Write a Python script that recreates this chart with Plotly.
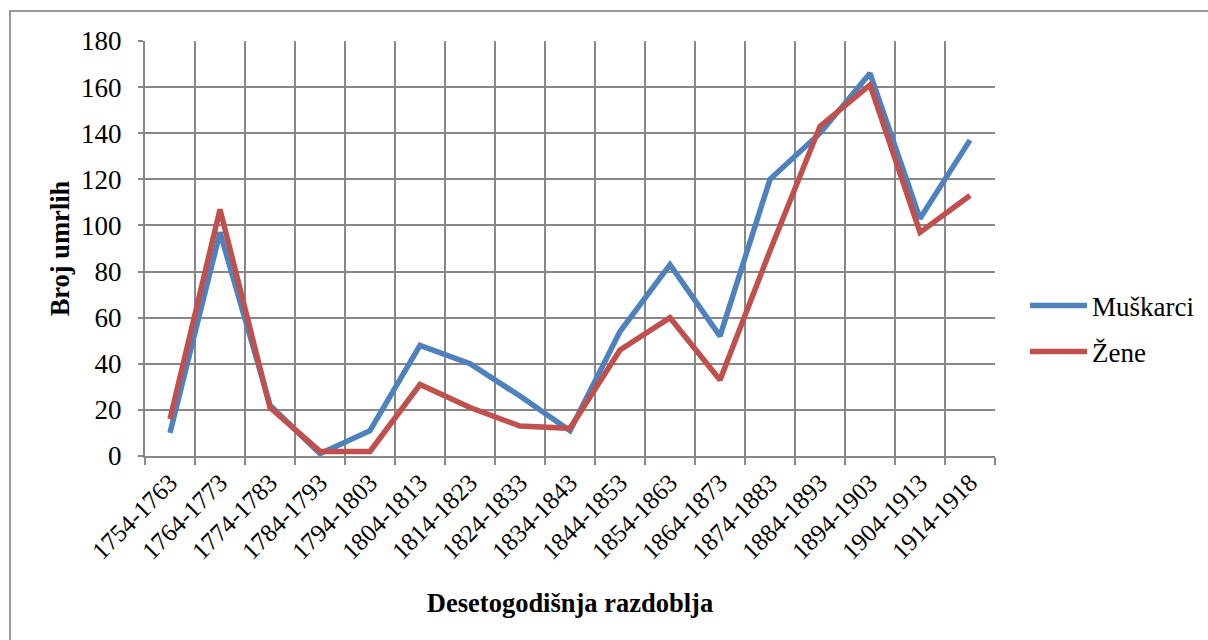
import plotly.graph_objects as go

categories = ["1754-1763", "1764-1773", "1774-1783", "1784-1793", "1794-1803",
              "1804-1813", "1814-1823", "1824-1833", "1834-1843", "1844-1853",
              "1854-1863", "1864-1873", "1874-1883", "1884-1893", "1894-1903",
              "1904-1913", "1914-1918"]
muskarci = [10, 97, 22, 1, 11, 48, 40, 26, 11, 54, 83, 52, 120, 140, 166, 103, 137]
zene = [16, 107, 21, 2, 2, 31, 21, 13, 12, 46, 60, 33, 89, 143, 161, 97, 113]
y_ticks = [0, 20, 40, 60, 80, 100, 120, 140, 160, 180]

W, H = 1208, 640
L, R, T, B = 145, 995, 41, 456

def px(x):
    return (x - L) / (R - L)

def py(y):
    return (B - y) / (B - T)

def cx(x):
    return x / W

def cy(y):
    return (H - y) / H

grid = "#878787"

def f(size, fam="Liberation Serif"):
    return dict(family=fam, size=size, color="black")

fig = go.Figure()
fig.add_trace(go.Scatter(x=categories, y=muskarci, mode="lines", name="Muškarci",
                         line=dict(color="#4F81BD", width=5.5), legend="legend"))
fig.add_trace(go.Scatter(x=categories, y=zene, mode="lines", name="Žene",
                         line=dict(color="#C0504D", width=5.5), legend="legend2"))

legend_common = dict(xref="container", yref="container", xanchor="left", yanchor="middle",
                     font=f(27), itemwidth=57, bgcolor="rgba(0,0,0,0)")

fig.update_layout(
    width=W, height=H, autosize=False,
    margin=dict(l=L, r=W - R, t=T, b=H - B),
    paper_bgcolor="white", plot_bgcolor="white",
    font=f(26),
    showlegend=True,
    legend=dict(x=cx(1025), y=cy(306), **legend_common),
    legend2=dict(x=cx(1025), y=cy(352), **legend_common),
    xaxis=dict(
        type="category", range=[-0.5, len(categories) - 0.5],
        tickson="boundaries", ticks="outside", ticklen=7, tickwidth=2, tickcolor=grid,
        showgrid=True, gridcolor=grid, gridwidth=2,
        showline=True, linecolor=grid, linewidth=2,
        tickangle=-45, tickfont=f(25),
        title=dict(text="<b>Desetogodišnja razdoblja</b>", font=f(26.5), standoff=30),
        automargin=False,
    ),
    yaxis=dict(
        range=[0, 180], tickvals=y_ticks, ticks="outside", ticklen=5, tickwidth=2,
        tickcolor=grid, showgrid=True, gridcolor=grid, gridwidth=2,
        showline=True, linecolor=grid, linewidth=2, zeroline=False,
        tickfont=f(27), ticklabelstandoff=11,
        title=dict(text="<b>Broj umrlih</b>", font=f(26.5), standoff=4),
        automargin=False,
    ),
    shapes=[dict(type="rect", xref="paper", yref="paper",
                 x0=px(10), x1=px(1214), y0=py(646), y1=py(11),
                 line=dict(color="#999999", width=2), fillcolor="rgba(0,0,0,0)",
                 layer="below")],
)

fig.write_html(
    "out.html",
    config={"displayModeBar": False, "responsive": False},
    post_script=(
        "document.documentElement.style.overflow='hidden';"
        "document.body.style.overflow='hidden';"
        "document.body.style.margin='0px';"
    ),
)
